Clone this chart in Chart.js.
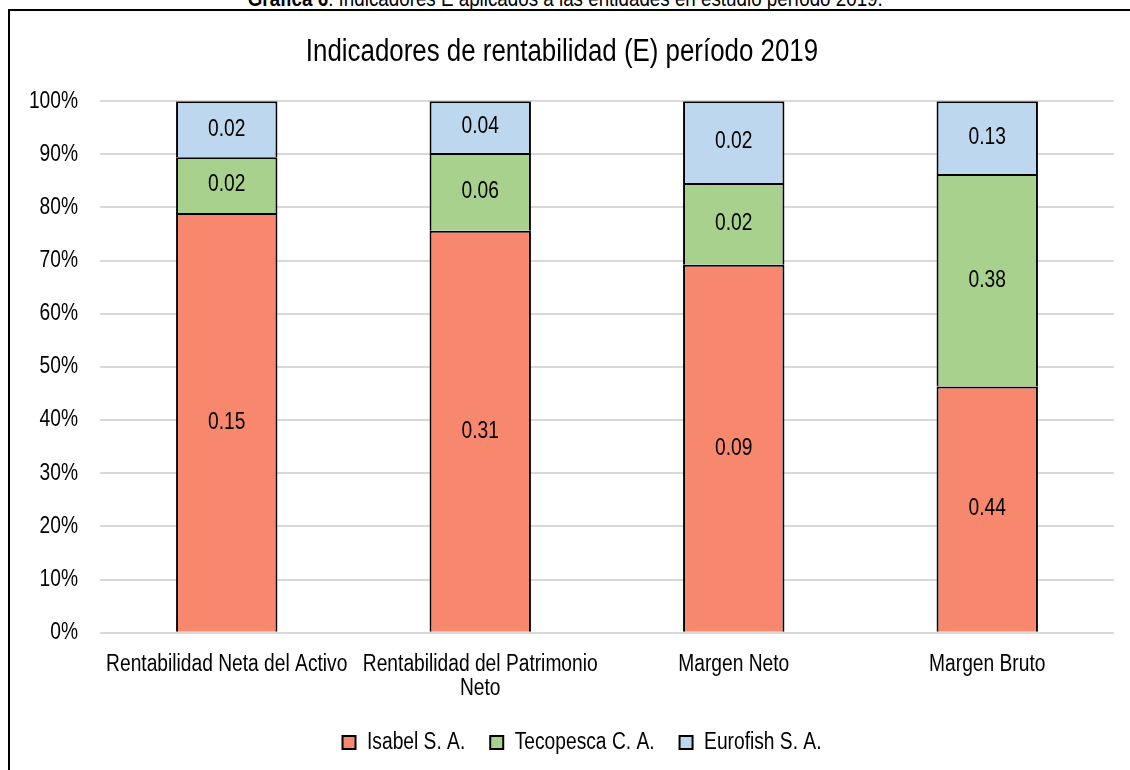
<!DOCTYPE html>
<html>
<head>
<meta charset="UTF-8">
<title>Indicadores de rentabilidad (E) período 2019</title>
<script src="https://cdn.jsdelivr.net/npm/chart.js"></script>
<style>
  html, body { margin: 0; padding: 0; background: #fff; overflow: hidden; }
  body { width: 1130px; height: 770px; position: relative; font-family: 'Liberation Sans', Arial, sans-serif; }
  #caption { position: absolute; left: 0; width: 1130px; top: -14px; text-align: center; font-size: 22.5px; color: #000; white-space: nowrap; }
  #caption span { display: inline-block; transform: scaleX(0.835); }
  #frame { position: absolute; left: 8px; top: 9px; width: 1200px; height: 800px; border: 2.5px solid #000; box-sizing: border-box; }
  #wrap { position: absolute; left: 0; top: 0; width: 1130px; height: 770px; }
</style>
</head>
<body>
<div id="caption"><span><b>Gráfica 6</b>: Indicadores E aplicados a las entidades en estudio período 2019.</span></div>
<div id="frame"></div>
<div id="wrap"><canvas id="chart" width="1130" height="770"></canvas></div>
<script>
const FONT = "'Liberation Sans', Arial, sans-serif";

const categories = [
  'Rentabilidad Neta del Activo',
  ['Rentabilidad del Patrimonio', 'Neto'],
  'Margen Neto',
  'Margen Bruto'
];
const seriesNames = ['Isabel S. A.', 'Tecopesca C. A.', 'Eurofish S. A.'];
const isabel = [0.15, 0.31, 0.09, 0.44];
const tecopesca = [0.02, 0.06, 0.02, 0.38];
const eurofish = [0.02, 0.04, 0.02, 0.13];
const colors = ['#F7876D', '#A9D18E', '#BDD7EE'];
const yTicks = [0, 10, 20, 30, 40, 50, 60, 70, 80, 90, 100];

// the original uses a narrow typeface; squeeze canvas text horizontally
const SX = 0.835;
const proto = CanvasRenderingContext2D.prototype;
const origFill = proto.fillText;
const origMeasure = proto.measureText;
proto.fillText = function (text, x, y, maxWidth) {
  this.save();
  this.translate(x, y);
  this.scale(SX, 1);
  if (maxWidth !== undefined) origFill.call(this, text, 0, 0, maxWidth / SX);
  else origFill.call(this, text, 0, 0);
  this.restore();
};
proto.measureText = function (text) {
  const m = origMeasure.call(this, text);
  return {
    width: m.width * SX,
    actualBoundingBoxLeft: m.actualBoundingBoxLeft * SX,
    actualBoundingBoxRight: m.actualBoundingBoxRight * SX,
    actualBoundingBoxAscent: m.actualBoundingBoxAscent,
    actualBoundingBoxDescent: m.actualBoundingBoxDescent,
    fontBoundingBoxAscent: m.fontBoundingBoxAscent,
    fontBoundingBoxDescent: m.fontBoundingBoxDescent
  };
};

// 100% stacked: each bar is split by share of the column total
const rawSeries = [isabel, tecopesca, eurofish];
const totals = categories.map((c, i) => rawSeries.reduce((s, arr) => s + arr[i], 0));

const datasets = rawSeries.map((arr, k) => ({
  label: seriesNames[k],
  data: arr.map((v, i) => v / totals[i] * 100),
  raw: arr,
  backgroundColor: colors[k],
  borderColor: '#000',
  borderWidth: 2,
  borderSkipped: 'start',
  barPercentage: 0.8,
  categoryPercentage: 0.5
}));

const valueLabels = {
  id: 'valueLabels',
  afterDatasetsDraw(chart) {
    const ctx = chart.ctx;
    ctx.save();
    ctx.font = '23px ' + FONT;
    ctx.fillStyle = '#000';
    ctx.textAlign = 'center';
    ctx.textBaseline = 'middle';
    chart.data.datasets.forEach((ds, k) => {
      chart.getDatasetMeta(k).data.forEach((el, i) => {
        const y = (el.y + el.base) / 2;
        ctx.fillText(ds.raw[i].toFixed(2), el.x, y);
      });
    });
    ctx.restore();
  }
};

// legend sits a little right of the canvas centre in the original
const legendShift = {
  id: 'legendShift',
  afterLayout(chart) {
    if (chart.legend) {
      chart.legend.left += 20;
      chart.legend.right += 20;
    }
  }
};

new Chart(document.getElementById('chart'), {
  type: 'bar',
  data: { labels: categories, datasets: datasets },
  plugins: [valueLabels, legendShift],
  options: {
    responsive: false,
    animation: false,
    layout: { padding: { left: 10, right: 16, top: 12, bottom: 6 } },
    plugins: {
      title: {
        display: true,
        text: 'Indicadores de rentabilidad (E) período 2019',
        color: '#000',
        font: { family: FONT, size: 31, weight: 'normal' },
        padding: { top: 22, bottom: 30 }
      },
      legend: {
        position: 'bottom',
        labels: {
          color: '#000',
          font: { family: FONT, size: 23 },
          boxWidth: 13,
          boxHeight: 13,
          padding: 25
        }
      },
      tooltip: { enabled: false }
    },
    scales: {
      x: {
        stacked: true,
        grid: { display: false, drawTicks: false },
        border: { display: false },
        afterFit(scale) { scale.height -= 15; },
        ticks: {
          color: '#000',
          font: { family: FONT, size: 23, lineHeight: 1.05 },
          padding: 20,
          maxRotation: 0,
          autoSkip: false
        }
      },
      y: {
        stacked: true,
        min: 0,
        max: 100,
        afterBuildTicks(scale) { scale.ticks = yTicks.map(v => ({ value: v })); },
        afterFit(scale) { scale.width = 90; },
        grid: { color: '#D9D9D9', lineWidth: 2, drawTicks: false },
        border: { display: false },
        ticks: {
          color: '#000',
          font: { family: FONT, size: 23 },
          padding: 22,
          callback: v => v + '%'
        }
      }
    }
  }
});
</script>
</body>
</html>
